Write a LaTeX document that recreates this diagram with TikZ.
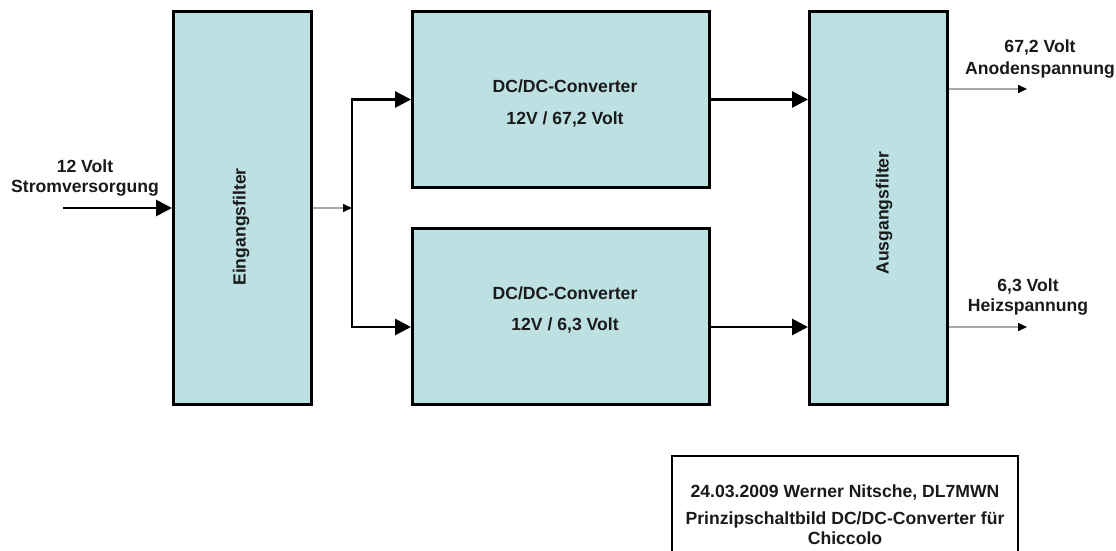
\documentclass[tikz,border=0pt]{standalone}
\usepackage{fontspec}
\setmainfont{Liberation Sans}
\usetikzlibrary{arrows.meta}
\definecolor{filterblau}{RGB}{189,224,227}
\definecolor{schrift}{RGB}{26,26,26}
\tikzset{
	block/.style={draw=black, line width=3pt, fill=filterblau, inner sep=0pt},
	beschr/.style={font=\fontsize{17.6}{20}\selectfont\bfseries, text=schrift, align=center, inner sep=0pt},
	dick/.style={line width=2.8pt, -{Triangle[length=16pt,width=16pt]}},
	duenn/.style={draw=black!35, line width=1.5pt, -{Triangle[length=9pt,width=8pt,black]}}
}
\begin{document}
\begin{tikzpicture}[x=1pt, y=-1pt]
	\useasboundingbox (0,0) rectangle (1116,551);
	\node[block, minimum width=138pt, minimum height=393pt] (ein) at (242.5,208) {};
	\node[block, minimum width=297pt, minimum height=176pt] (dc1) at (561,99.5) {};
	\node[block, minimum width=297pt, minimum height=176pt] (dc2) at (561,316.5) {};
	\node[block, minimum width=138pt, minimum height=393pt] (aus) at (878.5,208) {};
	\node[beschr, rotate=90] (eintext) at (241,227) {Eingangsfilter};
	\node[beschr, rotate=90] (austext) at (884,213) {Ausgangsfilter};
	\node[beschr] (dc1text) at (565,103) {DC/DC-Converter\\[12pt]12V / 67,2 Volt};
	\node[beschr] (dc2text) at (565,310) {DC/DC-Converter\\[11pt]12V / 6,3 Volt};
	%Eingang
	\coordinate (quelle) at (63,208);
	\coordinate (abzweig) at (352,208);
	\coordinate (dc2ein) at ([yshift=-10.5pt]dc2.west);
	\node[beschr] (eingang) at (85,178) {12 Volt\\Stromversorgung};
	\draw[dick] (quelle) -- (ein.west);
	\draw[duenn] (ein.east) -- (abzweig);
	\draw[dick] (abzweig) |- (dc1.west);
	\draw[dick] (abzweig) |- (dc2ein);
	\draw[dick] (dc1.east) -- (dc1.east -| aus.west);
	\draw[dick] (dc2ein -| dc2.east) -- (dc2ein -| aus.west);
	%Ausgaenge
	\coordinate (anode) at (1027,89);
	\coordinate (heiz) at (1027,327);
	\draw[duenn] (anode -| aus.east) -- (anode);
	\draw[duenn] (heiz -| aus.east) -- (heiz);
	\node[beschr] (anodetext) at (1040,59) {67,2 Volt\\[2pt]Anodenspannung};
	\node[beschr] (heiztext) at (1028,297) {6,3 Volt\\Heizspannung};
	%Schriftfeld
	\node[beschr, draw=black, line width=2pt, minimum width=346pt, minimum height=118pt, anchor=north west] (titel) at (671,455)
		{24.03.2009 Werner Nitsche, DL7MWN\\[7pt]Prinzipschaltbild DC/DC-Converter für\\Chiccolo};
\end{tikzpicture}
\end{document}
